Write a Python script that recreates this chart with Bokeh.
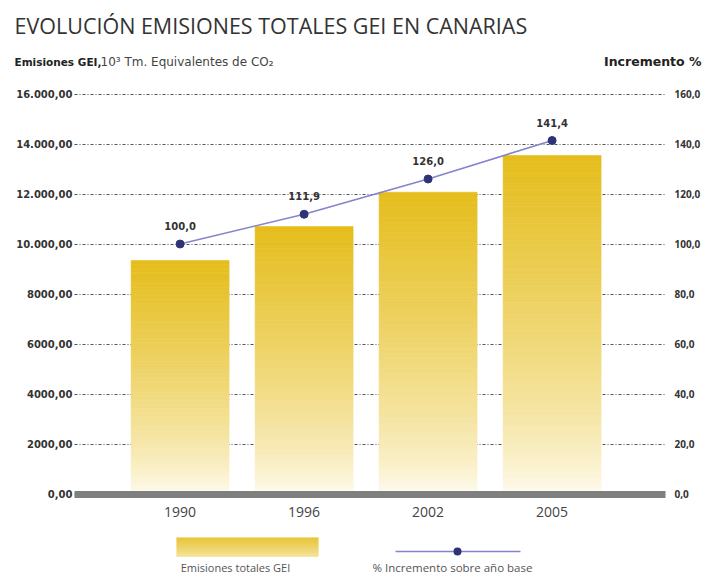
from bokeh.plotting import figure
from bokeh.models import (ColumnDataSource, Range1d, LinearAxis, FixedTicker,
                          Label, LabelSet, BoxAnnotation)
from bokeh.core.properties import value
from bokeh.embed import file_html
from bokeh.resources import INLINE

# ---------------- data ----------------
years = ["1990", "1996", "2002", "2005"]
emisiones = [9340, 10700, 12070, 13540]
incremento = [100.0, 111.9, 126.0, 141.4]
incremento_labels = ["100,0", "111,9", "126,0", "141,4"]

left_ticks = [0, 2000, 4000, 6000, 8000, 10000, 12000, 14000, 16000]
left_tick_labels = ["0,00", "2000,00", "4000,00", "6000,00", "8000,00",
                    "10.000,00", "12.000,00", "14.000,00", "16.000,00"]
right_ticks = [0, 20, 40, 60, 80, 100, 120, 140, 160]
right_tick_labels = ["0,0", "20,0", "40,0", "60,0", "80,0",
                     "100,0", "120,0", "140,0", "160,0"]

title_text = "EVOLUCIÓN EMISIONES TOTALES GEI EN CANARIAS"
left_header_bold = "Emisiones GEI,"
left_header_units = "10³ Tm. Equivalentes de CO₂"
right_header = "Incremento %"
legend_bar_text = "Emisiones totales GEI"
legend_line_text = "% Incremento sobre año base"

# ---------------- layout constants (pixels) ----------------
W, H = 706, 577
X0_PX, X_STEP = 179.6, 124.0      # pixel of first category centre, pixels per category
Y0_PX, Y_SCALE = 493.5, 0.025     # pixel of value 0, pixels per unit
PLOT_L, PLOT_R = 74, 665          # left / right edge of plotting area

xs = list(range(len(years)))


def dx(px):
    return (px - X0_PX) / X_STEP


def dy(py):
    return (Y0_PX - py) / Y_SCALE


TOP_RGB = (229, 189, 28)
BOT_RGB = (255, 253, 245)


def grad(f):
    g = f ** 0.7
    r = [round(b + (t - b) * g) for t, b in zip(TOP_RGB, BOT_RGB)]
    return "#%02x%02x%02x" % tuple(r)


# ---------------- figure ----------------
p = figure(width=W, height=H,
           x_range=Range1d(dx(0), dx(W)),
           y_range=Range1d(dy(H), dy(0)),
           x_axis_type=None, y_axis_type=None,
           min_border=0, min_border_left=0, min_border_right=0,
           min_border_top=0, min_border_bottom=0,
           toolbar_location=None, output_backend="svg",
           background_fill_color="white", border_fill_color="white")
p.outline_line_color = None
p.extra_y_ranges = {"pct": Range1d(dy(H) / 100.0, dy(0) / 100.0)}

# left axis: its inward ticks act as the dotted grid lines
la = LinearAxis(ticker=FixedTicker(ticks=left_ticks), fixed_location=dx(PLOT_L),
                bounds=(left_ticks[0], left_ticks[-1]), level="underlay")
la.major_label_overrides = {t: s for t, s in zip(left_ticks, left_tick_labels)}
la.axis_line_color = None
la.major_tick_in = PLOT_R - PLOT_L
la.major_tick_out = 0
la.major_tick_line_color = "#555555"
la.major_tick_line_dash = "3 2 1 2"
la.major_tick_line_width = 1
la.minor_tick_line_color = None
la.major_label_standoff = 2
la.major_label_text_font = "DejaVu Sans"
la.major_label_text_font_style = "bold"
la.major_label_text_font_size = "10px"
la.major_label_text_color = "#333333"
p.add_layout(la, "left")

# right axis
ra = LinearAxis(y_range_name="pct", ticker=FixedTicker(ticks=right_ticks),
                fixed_location=dx(PLOT_R), bounds=(right_ticks[0], right_ticks[-1]))
ra.major_label_overrides = {t: s for t, s in zip(right_ticks, right_tick_labels)}
ra.axis_line_color = None
ra.major_tick_line_color = None
ra.minor_tick_line_color = None
ra.major_label_standoff = 3
ra.major_label_text_font = "Open Sans"
ra.major_label_text_font_style = "bold"
ra.major_label_text_font_size = "10px"
ra.major_label_text_color = "#333333"
p.add_layout(ra, "right")

# bottom axis: thick grey base line with year labels
xa = LinearAxis(ticker=FixedTicker(ticks=xs), fixed_location=0,
                bounds=(dx(PLOT_L), dx(PLOT_R)))
xa.major_label_overrides = {i: y for i, y in zip(xs, years)}
xa.axis_line_color = "#7f7f7f"
xa.axis_line_width = 7
xa.axis_line_cap = "butt"
xa.major_tick_line_color = None
xa.minor_tick_line_color = None
xa.major_label_standoff = 7
xa.major_label_text_font = "Open Sans"
xa.major_label_text_font_size = "14px"
xa.major_label_text_color = "#444444"
p.add_layout(xa, "below")

# ---------------- bars (vertical gradient built from slices) ----------------
N = 60
bx, bb, bt, bc = [], [], [], []
for xi, v in zip(xs, emisiones):
    for k in range(N):
        bx.append(xi)
        bb.append(v * k / N)
        bt.append(v * (k + 1) / N)
        bc.append(grad((k + 0.5) / N))
bars = ColumnDataSource(dict(x=bx, bottom=bb, top=bt, color=bc))
p.vbar(x="x", bottom="bottom", top="top", width=0.79, source=bars,
       fill_color="color", line_color="color", line_width=0.6)

# ---------------- line ----------------
ls = ColumnDataSource(dict(x=xs, y=incremento, t=incremento_labels))
p.line(x="x", y="y", source=ls, y_range_name="pct", line_color="#8484cc", line_width=1.6)
p.scatter(x="x", y="y", source=ls, y_range_name="pct", size=8,
          fill_color="#2d3374", line_color="#2d3374")
p.add_layout(LabelSet(x="x", y="y", text="t", source=ls, y_range_name="pct",
                      y_offset=18, text_align="center", text_baseline="middle",
                      text_font=value("DejaVu Sans"), text_font_style="bold",
                      text_font_size="10px", text_color="#333333"))


# ---------------- header texts ----------------
def lab(text, px, py, size, style="normal", font="Open Sans", color="#333333", align="left"):
    p.add_layout(Label(x=dx(px), y=dy(py), text=text, text_font=font, text_font_size=size,
                       text_font_style=style, text_color=color,
                       text_align=align, text_baseline="middle"))


lab(title_text, 14, 25, "21.5px", color="#333333")
lab(left_header_bold, 14, 61, "10.5px", style="bold", font="DejaVu Sans", color="#222222")
lab(left_header_units, 100, 61, "12px", font="DejaVu Sans", color="#444444")
lab(right_header, 701, 61, "12.5px", style="bold", font="DejaVu Sans", color="#222222", align="right")


# ---------------- custom legend ----------------
def box(l, r, t, b, color, radius=0):
    p.add_layout(BoxAnnotation(left=dx(l), right=dx(r), top=dy(t), bottom=dy(b),
                               fill_color=color, fill_alpha=1, line_color=None,
                               border_radius=radius))


sw_l, sw_r, sw_t, sw_b = 176, 318, 537, 556
steps = 19
for i in range(steps):
    t_py = sw_t + (sw_b - sw_t) * i / steps
    b_py = sw_t + (sw_b - sw_t) * (i + 1) / steps + 0.3
    box(sw_l, sw_r, t_py, b_py, grad(1.0 - 0.65 * (i + 0.5) / steps))

box(395, 520, 550.2, 551.8, "#8484cc")
box(453, 461, 547, 555, "#2d3374", radius=4)

lab(legend_bar_text, 235, 567, "11px", color="#555555", align="center")
lab(legend_line_text, 452, 567, "11.5px", color="#555555", align="center")

open("out.html", "w").write(file_html(p, INLINE))
